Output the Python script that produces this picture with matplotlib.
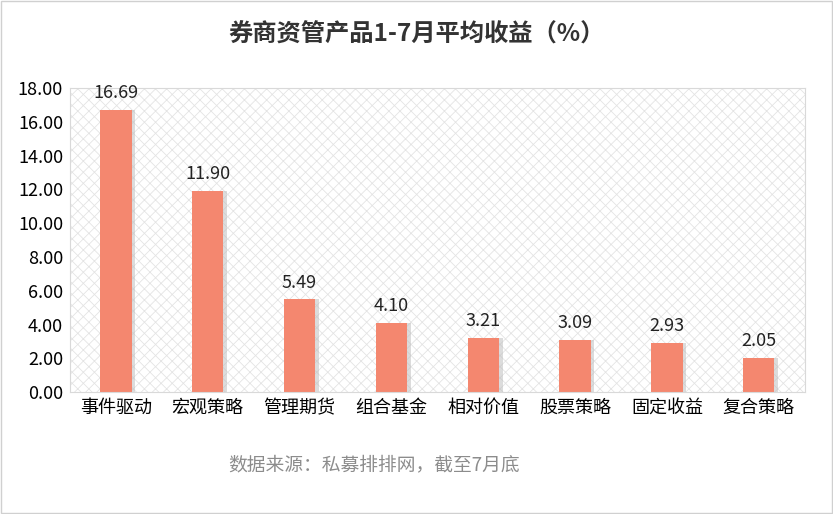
import matplotlib
matplotlib.use("Agg")
import matplotlib.pyplot as plt
from matplotlib.patches import Rectangle
import numpy as np

plt.rcParams['font.family'] = ['Noto Sans CJK SC', 'DejaVu Sans']
plt.rcParams['hatch.color'] = '#e4e4e4'
plt.rcParams['hatch.linewidth'] = 0.6

categories = ["事件驱动", "宏观策略", "管理期货", "组合基金", "相对价值", "股票策略", "固定收益", "复合策略"]
values = [16.69, 11.90, 5.49, 4.10, 3.21, 3.09, 2.93, 2.05]
yticks = np.arange(0, 18.01, 2)

fig = plt.figure(figsize=(8.33, 5.14), dpi=100)
fig.patches.append(Rectangle((0.001, 0.001), 0.998, 0.997, transform=fig.transFigure,
                             fill=False, edgecolor='#d0d0d0', linewidth=1))
ax = fig.add_axes([0.084, 0.237, 0.882, 0.592])
x = np.arange(len(categories))
ax.set_xlim(-0.5, len(categories) - 0.5)
ax.set_ylim(0, 18)
ax.add_patch(Rectangle((0, 0), 1, 1, transform=ax.transAxes, facecolor='white',
                       hatch='xxx', edgecolor='#e4e4e4', linewidth=0, zorder=0))
ax.bar(x + 0.04, values, width=0.34, color='#bbbbbb', alpha=0.5, zorder=1)
ax.bar(x, values, width=0.34, color='#F4876F', zorder=2)
for xi, v in zip(x, values):
    ax.text(xi, v + 0.45, f"{v:.2f}", ha='center', va='bottom', fontsize=13, color='#222222')
ax.set_xticks(x)
ax.set_xticklabels(categories, fontsize=13)
ax.set_yticks(yticks)
ax.set_yticklabels([f"{t:.2f}" for t in yticks], fontsize=13)
ax.tick_params(length=0, pad=5)
for s in ax.spines.values():
    s.set_color('#d9d9d9')
fig.text(0.5, 0.932, "券商资管产品1-7月平均收益（%）", ha='center', va='center',
         fontsize=17.5, fontweight='bold', color='#333333')
fig.text(0.449, 0.095, "数据来源：私募排排网，截至7月底", ha='center', va='center',
         fontsize=13.5, color='#8c8c8c')
fig.savefig("out.png", dpi=100)
